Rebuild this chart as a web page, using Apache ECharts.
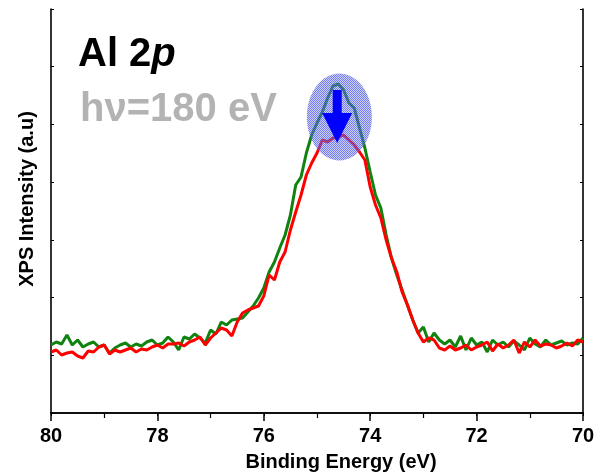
<!DOCTYPE html>
<html>
<head>
<meta charset="utf-8">
<script src="https://cdn.jsdelivr.net/npm/echarts@6/dist/echarts.min.js"></script>
<style>
  html, body { margin: 0; padding: 0; background: #fff; }
  #chart { width: 600px; height: 474px; }
</style>
</head>
<body>
<div id="chart"></div>
<script>
// binding energy grid: 80 eV down to 70 eV, 0.1 eV step
const eStart = 80;
const eStep = 0.1;

// intensity (a.u.)
const green = [
  68, 71, 69, 78, 68, 73, 66, 69, 71, 66,
  68, 60, 65, 68, 70, 66, 69, 67, 71, 73,
  68, 70, 76, 71, 63, 76, 74, 79, 75, 70,
  83, 79, 91, 88, 93, 94, 95, 101, 107, 115,
  125, 141, 151, 165, 178, 198, 228, 236, 260, 278,
  290, 301, 315, 327, 329, 323, 310, 305, 285, 265,
  241, 218, 205, 178, 155, 138, 123, 108, 93, 80,
  86, 71, 80, 73, 69, 73, 66, 77, 63, 75,
  68, 71, 61, 73, 68, 71, 66, 72, 68, 63,
  75, 69, 66, 73, 68, 70, 72, 68, 70, 69,
  75
];
const red = [
  61, 63, 58, 60, 61, 57, 55, 62, 61, 66,
  68, 59, 63, 61, 63, 65, 61, 64, 63, 66,
  68, 65, 69, 69, 70, 67, 71, 73, 76, 68,
  75, 80, 85, 83, 77, 91, 100, 103, 105, 107,
  117, 138, 133, 151, 161, 183, 201, 218, 238, 250,
  260, 273, 271, 275, 276, 278, 273, 268, 261, 253,
  226, 208, 195, 173, 155, 141, 121, 108, 93, 80,
  71, 75, 73, 65, 63, 67, 63, 65, 68, 63,
  66, 68, 71, 62, 69, 65, 68, 73, 60, 71,
  66, 73, 67, 69, 68, 65, 67, 70, 67, 73,
  71
];
const xTicks = [70, 72, 74, 76, 78, 80];

const yMax = 404;
const FONT = "'Liberation Sans', Arial, sans-serif";

function pairs(vals) {
  return vals.map((v, i) => [+(eStart - i * eStep).toFixed(2), v]);
}

const chart = echarts.init(document.getElementById('chart'));

const axisLineStyle = { color: '#000', width: 1.6 };

const option = {
  animation: false,
  grid: { left: 51, right: 17, top: 9, bottom: 61 },
  xAxis: [
    {
      type: 'value',
      min: xTicks[0],
      max: xTicks[xTicks.length - 1],
      interval: 2,
      inverse: true,
      position: 'bottom',
      axisLine: { lineStyle: axisLineStyle },
      axisTick: { inside: false, length: 8, lineStyle: { color: '#000', width: 1.5 } },
      minorTick: { show: true, splitNumber: 2, length: 5, lineStyle: { color: '#000', width: 1.2 } },
      axisLabel: { color: '#000', fontSize: 20, fontWeight: 'bold', fontFamily: FONT, margin: 13 },
      splitLine: { show: false }
    },
    {
      type: 'value',
      min: 70,
      max: 80,
      interval: 1,
      inverse: true,
      position: 'top',
      axisLine: { lineStyle: axisLineStyle },
      axisTick: { inside: true, length: 3, lineStyle: { color: '#000', width: 1 } },
      axisLabel: { show: false },
      splitLine: { show: false }
    }
  ],
  yAxis: [
    {
      type: 'value',
      min: 0,
      max: yMax,
      interval: yMax / 7,
      position: 'left',
      axisLine: { show: true, lineStyle: axisLineStyle },
      axisTick: { show: true, inside: true, length: 3, lineStyle: { color: '#000', width: 1 } },
      axisLabel: { show: false },
      splitLine: { show: false }
    },
    {
      type: 'value',
      min: 0,
      max: yMax,
      interval: yMax / 7,
      position: 'right',
      axisLine: { show: true, lineStyle: axisLineStyle },
      axisTick: { show: true, inside: true, length: 3, lineStyle: { color: '#000', width: 1 } },
      axisLabel: { show: false },
      splitLine: { show: false }
    }
  ],
  series: [
    {
      name: 'green',
      type: 'line',
      data: pairs(green),
      showSymbol: false,
      lineStyle: { color: '#0f820f', width: 3 },
      z: 2
    },
    {
      name: 'red',
      type: 'line',
      data: pairs(red),
      showSymbol: false,
      lineStyle: { color: '#ff0000', width: 3 },
      z: 3
    }
  ]
};

chart.setOption(option);

// dotted fill for the highlight ellipse
const pat = document.createElement('canvas');
pat.width = 2; pat.height = 2;
const pc = pat.getContext('2d');
pc.fillStyle = 'rgba(60,70,230,0.7)';
pc.fillRect(0, 0, 1, 1); pc.fillRect(1, 1, 1, 1);
pc.fillStyle = 'rgba(140,150,245,0.45)';
pc.fillRect(1, 0, 1, 1); pc.fillRect(0, 1, 1, 1);

const ellC = chart.convertToPixel({ gridIndex: 0 }, [74.58, 296]);
const arrTop = chart.convertToPixel({ gridIndex: 0 }, [74.62, 323]);
const arrTip = chart.convertToPixel({ gridIndex: 0 }, [74.62, 270]);

chart.setOption({
  graphic: [
    {
      type: 'ellipse',
      shape: { cx: ellC[0], cy: ellC[1], rx: 32.5, ry: 43.5 },
      style: { fill: { image: pat, repeat: 'repeat' } },
      z: 10
    },
    {
      type: 'rect',
      shape: { x: arrTop[0] - 4.5, y: arrTop[1], width: 9, height: arrTip[1] - arrTop[1] - 26 },
      style: { fill: '#0000ff' },
      z: 11
    },
    {
      type: 'polygon',
      shape: {
        points: [
          [arrTop[0] - 15, arrTip[1] - 30],
          [arrTop[0] + 15, arrTip[1] - 30],
          [arrTip[0], arrTip[1]]
        ]
      },
      style: { fill: '#0000ff' },
      z: 11
    },
    {
      type: 'text',
      x: 78,
      y: 55,
      style: {
        text: '{a|Al 2}{b|p}',
        verticalAlign: 'middle',
        rich: {
          a: { fontSize: 40, fontWeight: 'bold', fontFamily: FONT, fill: '#000' },
          b: { fontSize: 40, fontWeight: 'bold', fontStyle: 'italic', fontFamily: FONT, fill: '#000' }
        }
      },
      z: 12
    },
    {
      type: 'text',
      x: 80,
      y: 110,
      style: {
        text: 'hν=180 eV',
        font: 'bold 40px ' + FONT,
        fill: '#b3b3b3',
        verticalAlign: 'middle'
      },
      z: 12
    },
    {
      type: 'text',
      x: 341,
      y: 462,
      style: {
        text: 'Binding Energy (eV)',
        font: 'bold 20px ' + FONT,
        fill: '#000',
        align: 'center',
        verticalAlign: 'middle'
      }
    },
    {
      type: 'text',
      x: 27,
      y: 199,
      rotation: Math.PI / 2,
      style: {
        text: 'XPS Intensity (a.u)',
        font: 'bold 20px ' + FONT,
        fill: '#000',
        align: 'center',
        verticalAlign: 'middle'
      }
    }
  ]
});
</script>
</body>
</html>
